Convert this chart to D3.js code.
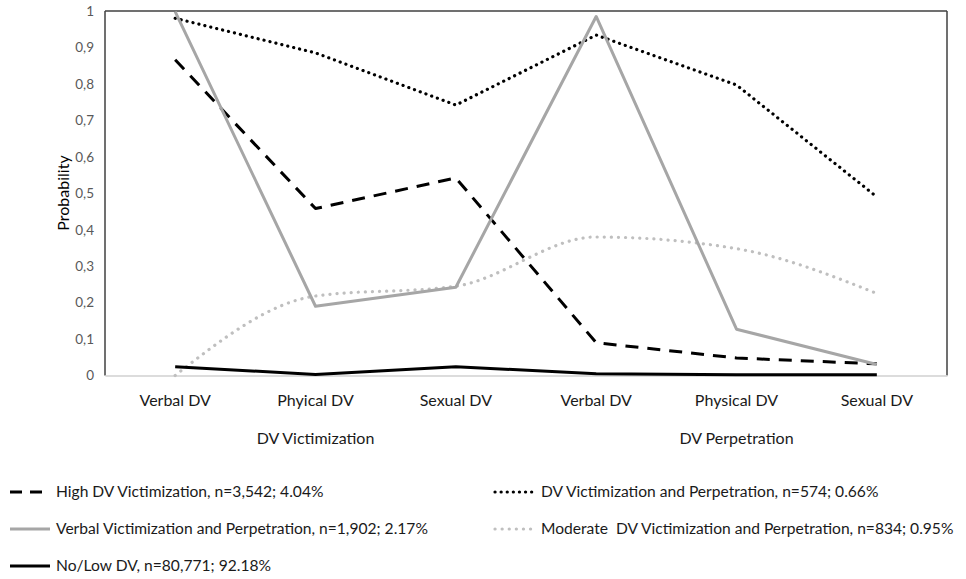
<!DOCTYPE html>
<html>
<head>
<meta charset="utf-8">
<script src="https://cdn.jsdelivr.net/npm/d3@7"></script>
<style>
html,body{margin:0;padding:0;background:#fff;}
svg{display:block;font-family:"Lato","Open Sans",sans-serif;}
</style>
</head>
<body>
<svg id="chart" width="966" height="579"></svg>
<script>
const categories = ["Verbal DV","Phyical DV","Sexual DV","Verbal DV","Physical DV","Sexual DV"];
const groups = ["DV Victimization","DV Perpetration"];
const yTicks = [0,0.1,0.2,0.3,0.4,0.5,0.6,0.7,0.8,0.9,1];

const highDV      = [0.866,0.458,0.542,0.090,0.048,0.032];
const dvVicPerp   = [0.980,0.885,0.742,0.934,0.797,0.490];
const verbalVP    = [0.998,0.190,0.242,0.985,0.127,0.030];
const moderateVP  = [0.000,0.218,0.245,0.380,0.348,0.225];
const noLowDV     = [0.024,0.003,0.024,0.005,0.002,0.002];

const seriesNames = [
  "High DV Victimization, n=3,542; 4.04%",
  "DV Victimization and Perpetration, n=574; 0.66%",
  "Verbal Victimization and Perpetration, n=1,902; 2.17%",
  "Moderate  DV Victimization and Perpetration, n=834; 0.95%",
  "No/Low DV, n=80,771; 92.18%"
];

const series = [
  {name: seriesNames[0], values: highDV,     color:"#000000", dash:"13,9", cap:"butt", curve:d3.curveLinear, w:3},
  {name: seriesNames[1], values: dvVicPerp,  color:"#000000", dash:"0.1,6", cap:"round", curve:d3.curveLinear, w:3.2},
  {name: seriesNames[2], values: verbalVP,   color:"#a6a6a6", dash:null, cap:"butt", curve:d3.curveLinear, w:3},
  {name: seriesNames[3], values: moderateVP, color:"#bfbfbf", dash:"0.1,7", cap:"round", curve:d3.curveMonotoneX, w:3.2},
  {name: seriesNames[4], values: noLowDV,    color:"#000000", dash:null, cap:"butt", curve:d3.curveLinear, w:3}
];

const svg = d3.select("#chart");
const L = 105, R = 947, T = 11, B = 375.5;

const x = d3.scaleBand().domain(d3.range(categories.length)).range([L, R]);
const y = d3.scaleLinear().domain([0,1]).range([B, T]);

// y tick labels
const yAxis = d3.axisLeft(y).tickValues(yTicks).tickSize(0).tickPadding(11)
  .tickFormat(d => d3.format(".1~f")(d).replace(".", ","));
const gy = svg.append("g").attr("transform", `translate(${L},0)`).call(yAxis);
gy.select(".domain").remove();
gy.selectAll("text").attr("fill","#595959").style("font-size","13.5px").style("font-family","Lato, 'Open Sans', sans-serif");

// plot frame
svg.append("line").attr("x1",L).attr("x2",L).attr("y1",T).attr("y2",B).attr("stroke","#404040").attr("stroke-width",1.5);
svg.append("line").attr("x1",L).attr("x2",R).attr("y1",T).attr("y2",T).attr("stroke","#404040").attr("stroke-width",1.5);
svg.append("line").attr("x1",R).attr("x2",R).attr("y1",T).attr("y2",B).attr("stroke","#404040").attr("stroke-width",1.5);

// x axis
const xAxis = d3.axisBottom(x).tickSize(0).tickPadding(19).tickFormat(i => categories[i]);
const gx = svg.append("g").attr("transform", `translate(0,${B})`).call(xAxis);
gx.select(".domain").attr("stroke","#d0d0d0").attr("stroke-width",1.5);
gx.selectAll("text").attr("fill","#1a1a1a").style("font-size","16px").style("font-family","Lato, 'Open Sans', sans-serif");

// group labels
const groupScale = d3.scaleBand().domain(groups).range([L, R]);
svg.selectAll(".grp").data(groups).enter().append("text")
  .attr("x", d => groupScale(d) + groupScale.bandwidth()/2)
  .attr("y", 444)
  .attr("text-anchor","middle")
  .attr("fill","#1a1a1a")
  .style("font-size","16px")
  .text(d => d);

// y title
svg.append("text")
  .attr("transform","translate(69,193) rotate(-90)")
  .attr("text-anchor","middle")
  .attr("fill","#000")
  .style("font-size","16px")
  .text("Probability");

// lines
const drawOrder = [3,1,0,2,4];
drawOrder.forEach(si => {
  const s = series[si];
  const line = d3.line().x((d,i) => x(i) + x.bandwidth()/2).y(d => y(d)).curve(s.curve);
  svg.append("path")
    .datum(s.values)
    .attr("d", line)
    .attr("fill","none")
    .attr("stroke", s.color)
    .attr("stroke-width", s.w)
    .attr("stroke-linecap", s.cap)
    .attr("stroke-linejoin","round")
    .attr("stroke-dasharray", s.dash);
});

// legend
const legendPos = [
  {x:10, y:492}, {x:495, y:492},
  {x:10, y:529}, {x:495, y:529},
  {x:10, y:566}
];
series.forEach((s, i) => {
  const p = legendPos[i];
  const g = svg.append("g").attr("transform", `translate(${p.x},${p.y})`);
  g.append("line").attr("x1",0).attr("x2",40).attr("y1",0).attr("y2",0)
    .attr("stroke", s.color).attr("stroke-width", s.w)
    .attr("stroke-linecap", s.cap)
    .attr("stroke-dasharray", s.dash === "13,9" ? "12,8" : s.dash);
  g.append("text").attr("x", 46).attr("y", 0).attr("dy","0.35em")
    .attr("fill","#1a1a1a").style("font-size","15.6px").style("white-space","pre").text(s.name);
});
</script>
</body>
</html>
